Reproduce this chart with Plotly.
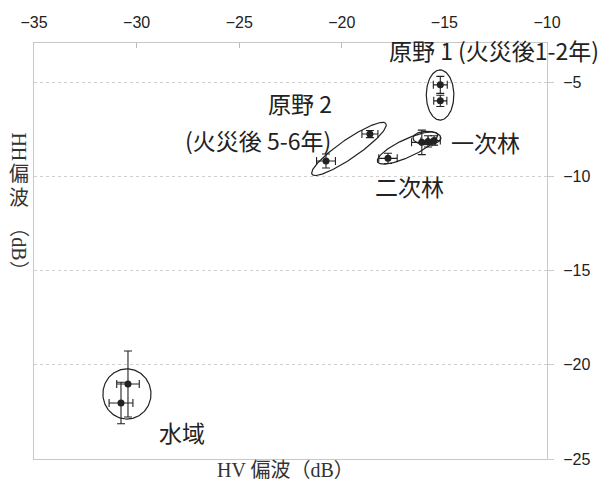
import numpy as np
import plotly.graph_objects as go

# Backscatter means (dB) with standard deviations, per land-cover class
hv_genya1 = [-15.2, -15.2]
hh_genya1 = [-5.15, -6.0]
hv_err_genya1 = [0.34, 0.32]
hh_err_genya1 = [0.45, 0.3]

hv_ichiji = [-16.1, -15.8, -15.5]
hh_ichiji = [-8.2, -8.15, -8.1]
hv_err_ichiji = [0.5, 0.35, 0.3]
hh_err_ichiji = [0.65, 0.3, 0.25]

hv_niji = [-17.75]
hh_niji = [-9.05]
hv_err_niji = [0.45]
hh_err_niji = [0.27]

hv_genya2 = [-18.63, -20.77]
hh_genya2 = [-7.76, -9.19]
hv_err_genya2 = [0.39, 0.46]
hh_err_genya2 = [0.19, 0.37]

hv_water = [-30.42, -30.76]
hh_water = [-21.02, -22.03]
hv_err_water = [0.55, 0.58]
hh_err_water = [1.75, 1.1]

x_ticks = [-35, -30, -25, -20, -15, -10]
y_ticks = [-25, -20, -15, -10, -5]

X_RANGE = [-35, -10]
Y_RANGE = [-25, -2.93]

# Group outlines: centre (hv, hh), major semi-axis vector (dB), minor/major ratio
ellipses = [
    ((-15.21, -5.69), (0.0, 1.33), 0.55),
    ((-15.85, -7.97), (0.68, 0.0), 0.48),
    ((-16.8, -8.5), (1.46, 0.74), 0.27),
    ((-19.65, -8.55), (1.8, 1.35), 0.21),
    ((-30.47, -21.55), (0.0, 1.33), 0.96),
]

W, H = 602, 484
M = dict(l=34, r=55, t=43, b=25)
sx = (W - M["l"] - M["r"]) / (X_RANGE[1] - X_RANGE[0])
sy = (H - M["t"] - M["b"]) / (Y_RANGE[1] - Y_RANGE[0])

fig = go.Figure()


def ellipse_points(center, major, ratio, n=200):
    cx, cy = center
    ax, ay = major
    # perpendicular to the major axis in screen space, back in data units
    px, py = -ay * sy, ax * sx
    px, py = px / sx * ratio, py / sy * ratio
    t = np.linspace(0, 2 * np.pi, n)
    return cx + np.cos(t) * ax + np.sin(t) * px, cy + np.cos(t) * ay + np.sin(t) * py


for c, mj, r in ellipses:
    ex, ey = ellipse_points(c, mj, r)
    fig.add_trace(go.Scatter(x=ex, y=ey, mode="lines",
                             line=dict(color="#222", width=1.2),
                             hoverinfo="skip", showlegend=False))

groups = [
    (hv_genya1, hh_genya1, hv_err_genya1, hh_err_genya1),
    (hv_ichiji, hh_ichiji, hv_err_ichiji, hh_err_ichiji),
    (hv_niji, hh_niji, hv_err_niji, hh_err_niji),
    (hv_genya2, hh_genya2, hv_err_genya2, hh_err_genya2),
    (hv_water, hh_water, hv_err_water, hh_err_water),
]
for gx, gy, gex, gey in groups:
    fig.add_trace(go.Scatter(
        x=gx, y=gy, mode="markers",
        marker=dict(color="#222", size=7),
        error_x=dict(type="data", array=gex, color="#222", thickness=1.1, width=4),
        error_y=dict(type="data", array=gey, color="#222", thickness=1.1, width=4),
        showlegend=False))

label_font = dict(family="Noto Sans CJK JP", size=23, color="#222")
labels = [
    ("原野 1 (火災後1-2年)", -12.6, -3.30),
    ("原野 2", -22.04, -6.11),
    ("(火災後 5-6年)", -24.08, -8.08),
    ("一次林", -13.02, -8.18),
    ("二次林", -16.68, -10.52),
    ("水域", -27.79, -23.57),
]
for txt, lx, ly in labels:
    fig.add_annotation(x=lx, y=ly, xref="x", yref="y", text=txt, showarrow=False,
                       font=label_font, xanchor="center", yanchor="middle")

title_font = dict(family="Liberation Serif, Noto Sans CJK JP", size=20, color="#333")
fig.add_annotation(x=0.49, y=-0.026, xref="paper", yref="paper", text="HV 偏波（dB）",
                   showarrow=False, font=title_font, xanchor="center", yanchor="middle")

# vertical HH axis title: Latin runs rotated, kanji upright
ytitle_x = -0.03
ytitle_parts = [
    ("HH", 90, 0.75),
    ("偏", 0, 0.685),
    ("波", 0, 0.628),
    ("（dB）", 90, 0.505),
]
for txt, ang, py_ in ytitle_parts:
    fig.add_annotation(x=ytitle_x, y=py_, xref="paper", yref="paper", text=txt,
                       textangle=ang, showarrow=False, font=title_font,
                       xanchor="center", yanchor="middle")

fig.update_xaxes(range=X_RANGE, side="top", tickvals=x_ticks,
                 ticktext=[f"−{abs(v)}" for v in x_ticks],
                 ticks="inside", ticklen=5, tickcolor="#bbb",
                 showline=True, linecolor="#c8c8c8", linewidth=1, mirror=True,
                 showgrid=False, zeroline=False,
                 tickfont=dict(family="Liberation Sans", size=16, color="#222"),
                 ticklabelstandoff=8)
fig.update_yaxes(range=Y_RANGE, side="right", tickvals=y_ticks,
                 ticktext=[f"−{abs(v)}" for v in y_ticks],
                 ticks="outside", ticklen=6, tickcolor="#ccc",
                 showline=True, linecolor="#c8c8c8", linewidth=1, mirror=True,
                 showgrid=True, gridcolor="#cfcfcf", griddash="dot", gridwidth=1,
                 zeroline=False,
                 tickfont=dict(family="Liberation Sans", size=16, color="#222"),
                 ticklabelstandoff=6)

fig.update_layout(width=W, height=H, margin=M, plot_bgcolor="white",
                  paper_bgcolor="white", showlegend=False)

fig.write_html("out.html")
